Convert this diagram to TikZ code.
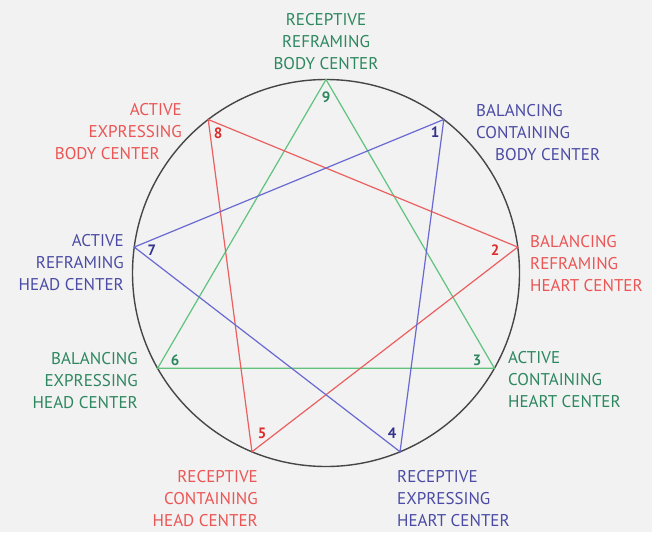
\documentclass[tikz,border=0pt]{standalone}
\usepackage{fontspec}
\setmainfont{PT Sans}
\definecolor{bgc}{RGB}{242,242,242}
\definecolor{rimc}{RGB}{70,70,70}
\definecolor{gline}{RGB}{95,195,125}
\definecolor{gtext}{RGB}{45,135,95}
\definecolor{rline}{RGB}{235,95,95}
\definecolor{rtext}{RGB}{235,85,85}
\definecolor{rnum}{RGB}{220,45,45}
\definecolor{bline}{RGB}{105,105,210}
\definecolor{btext}{RGB}{75,75,165}
\definecolor{bnum}{RGB}{50,50,140}
\tikzset{
  rim/.style={draw=rimc, line width=1.4pt},
  tri/.style={line width=1.2pt, line join=miter},
  lab/.style={inner sep=0pt, font=\fontsize{17}{22}\selectfont},
  numlab/.style={inner sep=0pt, font=\fontsize{15}{15}\selectfont\bfseries},
}
\begin{document}
\begin{tikzpicture}[x=1pt,y=-1pt]
\fill[bgc] (0,0) rectangle (652,532);
\useasboundingbox (0,0) rectangle (652,532);
\coordinate (O) at (326,273);
\foreach \n/\a in {9/90,1/52.5,2/7.7,3/-29.5,4/-67.5,5/-112.5,6/-150.5,7/172.3,8/127.5}
  \coordinate (p\n) at ({326+193.5*cos(\a)},{273-193.5*sin(\a)});
\draw[rim] (O) circle[radius=193.5];
% triangles
\draw[tri, draw=gline] (p9) -- (p3) -- (p6) -- cycle;
\draw[tri, draw=rline] (p8) -- (p2) -- (p5) -- cycle;
\draw[tri, draw=bline] (p1) -- (p7) -- (p4) -- cycle;
% numbers
\node[numlab, text=gtext] (n9) at (326,97) {9};
\node[numlab, text=bnum] (n1) at (435,132) {1};
\node[numlab, text=rnum] (n2) at (495,250) {2};
\node[numlab, text=gtext] (n3) at (477,360) {3};
\node[numlab, text=bnum] (n4) at (392,433) {4};
\node[numlab, text=rnum] (n5) at (262,433) {5};
\node[numlab, text=gtext] (n6) at (175,360) {6};
\node[numlab, text=bnum] (n7) at (152,250) {7};
\node[numlab, text=rnum] (n8) at (218,133) {8};
% labels
\node[lab, text=gtext, align=center] (l9) at (326,42) {RECEPTIVE\\REFRAMING\\BODY CENTER};
\node[lab, text=btext, align=left, anchor=west] (l1) at (476,133) {BALANCING\\CONTAINING\\\hspace*{19pt}BODY CENTER};
\node[lab, text=rtext, align=left, anchor=west] (l2) at (530,264) {BALANCING\\REFRAMING\\HEART CENTER};
\node[lab, text=gtext, align=left, anchor=west] (l3) at (508,380) {ACTIVE\\CONTAINING\\HEART CENTER};
\node[lab, text=btext, align=left, anchor=west] (l4) at (397,499) {RECEPTIVE\\EXPRESSING\\HEART CENTER};
\node[lab, text=rtext, align=right, anchor=east] (l5) at (258,499) {RECEPTIVE\\CONTAINING\\HEAD CENTER};
\node[lab, text=gtext, align=right, anchor=east] (l6) at (138,381) {BALANCING\\EXPRESSING\\HEAD CENTER};
\node[lab, text=btext, align=right, anchor=east] (l7) at (124,263) {ACTIVE\\REFRAMING\\HEAD CENTER};
\node[lab, text=rtext, align=right, anchor=east] (l8) at (182,132) {ACTIVE\\EXPRESSING\\BODY CENTER\hspace*{22pt}};
\end{tikzpicture}
\end{document}
